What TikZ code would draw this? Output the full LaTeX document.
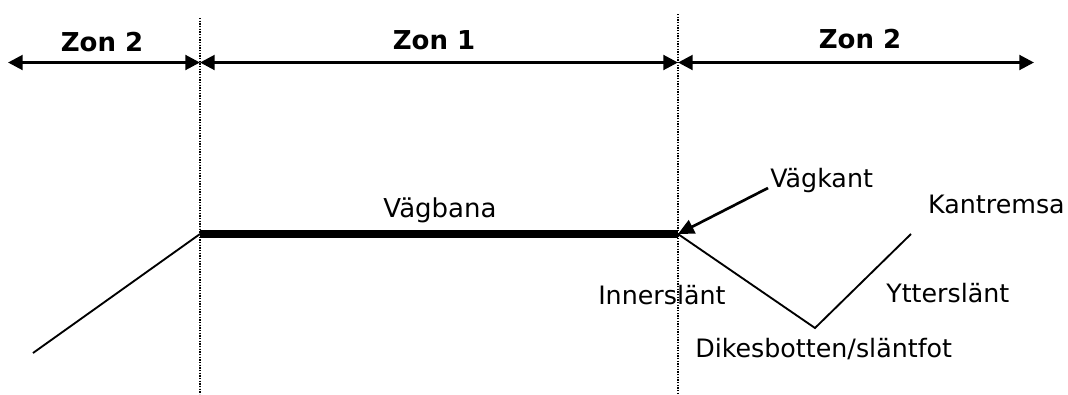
\documentclass[tikz,border=0pt]{standalone}
\usepackage{fontspec}
\setmainfont{DejaVu Sans}
\usetikzlibrary{arrows.meta}
\tikzset{
  zonlabel/.style={font=\fontsize{19.5}{22}\selectfont\bfseries, anchor=base, inner sep=0pt},
  lbl/.style={font=\fontsize{19}{22}\selectfont, anchor=base west, inner sep=0pt},
  zonarrow/.style={line width=2.2pt, {Triangle[length=11pt,width=11pt]}-{Triangle[length=11pt,width=11pt]}},
  guide/.style={dash pattern=on 1.1pt off 0.9pt, line width=1.3pt},
  ground/.style={line width=1.4pt},
  road/.style={line width=6pt},
}
\begin{document}
\begin{tikzpicture}[x=0.75pt,y=-0.75pt]
\useasboundingbox (0,0) rectangle (1068,394);
% guide lines
\coordinate (g1t) at (200,18); \coordinate (g1b) at (200,394);
\coordinate (g2t) at (678,14); \coordinate (g2b) at (678,394);
\draw[guide] (g1t) -- (g1b);
\draw[guide] (g2t) -- (g2b);
% zone arrows
\coordinate (a0) at (8,62.5);
\coordinate (a1) at (200,62.5);
\coordinate (a2) at (678,62.5);
\coordinate (a3) at (1034,62.5);
\draw[zonarrow] (a0) -- (a1);
\draw[zonarrow] (a1) -- (a2);
\draw[zonarrow] (a2) -- (a3);
\node[zonlabel] (z2l) at (102,51) {Zon 2};
\node[zonlabel] (z1) at (434,49) {Zon 1};
\node[zonlabel] (z2r) at (860,48) {Zon 2};
% ground profile
\coordinate (L) at (33,353);
\coordinate (R1) at (200,234);
\coordinate (R2) at (678,234);
\coordinate (D) at (815,328);
\coordinate (K) at (911,234);
\draw[ground] (L) -- (R1);
\draw[road] (R1) -- (R2);
\draw[ground] (R2) -- (D) -- (K);
% labels
\node[font=\fontsize{19.5}{22}\selectfont, anchor=base, inner sep=0pt] (vb) at (440,217) {Vägbana};
\node[lbl] (vk) at (770,187) {Vägkant};
\node[lbl, anchor=base east] (km) at (1065,213) {Kantremsa};
\node[lbl] (in) at (598,304) {Innerslänt};
\node[lbl] (yt) at (886,302) {Ytterslänt};
\node[lbl] (dk) at (695,357) {Dikesbotten/släntfot};
\coordinate (vks) at (768,188);
\draw[line width=2pt, -{Triangle[length=12pt,width=11pt]}] (vks) -- (R2);
\end{tikzpicture}
\end{document}
